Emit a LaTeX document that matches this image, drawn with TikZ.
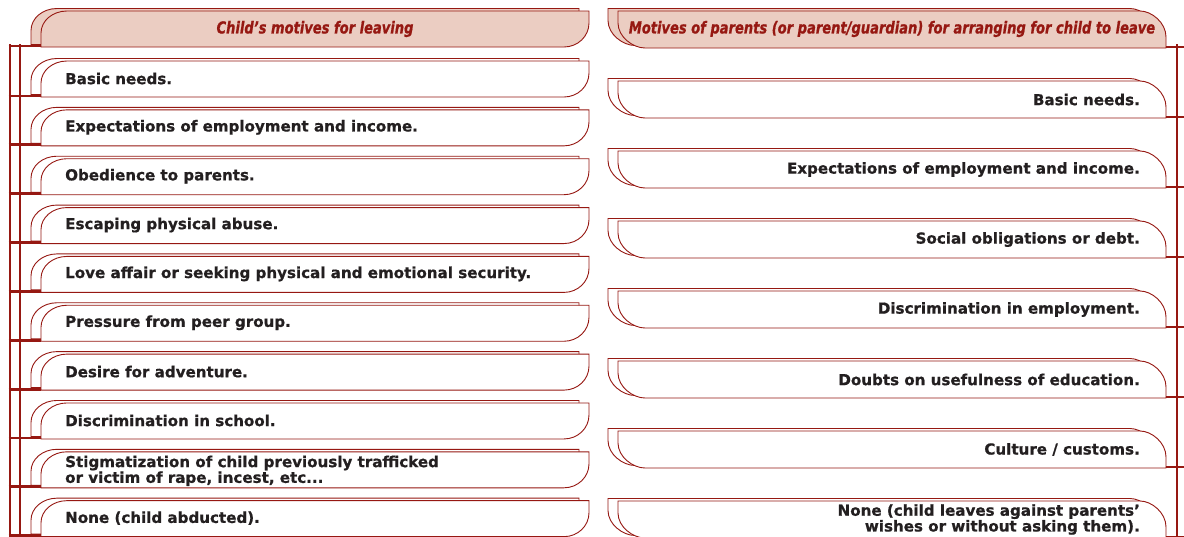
\documentclass[tikz,border=0pt]{standalone}
\usepackage{fontspec}
\setmainfont{DejaVu Sans}
\newfontfamily\bodyfont[BoldFeatures={FakeBold=0.7}]{DejaVu Sans}
\newfontfamily\hdrfont[BoldItalicFeatures={FakeBold=0.8}]{DejaVu Sans Condensed}
\definecolor{dred}{RGB}{150,24,18}
\definecolor{hfill}{RGB}{235,205,194}
\definecolor{txt}{RGB}{35,31,32}
\tikzset{
  boxline/.style={draw=dred,line width=0.9pt},
  ltext/.style={anchor=west,inner sep=0pt,text=txt,font=\bodyfont\fontsize{15.1}{14.5}\selectfont\bfseries,align=left},
  rtext/.style={anchor=east,inner sep=0pt,text=txt,font=\bodyfont\fontsize{15.1}{14.5}\selectfont\bfseries,align=right},
  htext/.style={inner sep=0pt,text=dred,font=\hdrfont\fontsize{16.5}{16.5}\selectfont\bfseries\itshape},
  brk/.style={draw=dred,line width=2pt},
  brkh/.style={draw=dred,line width=2.8pt},
}
\newcommand\lpath[2]{(41,#2) -- (41,#1+22) .. controls (41,#1+9.85) and (52.6,#1) .. (67,#1) -- (589,#1) -- (589,#2-24) .. controls (589,#2-10.7) and (577.8,#2) .. (564,#2) -- cycle}
\newcommand\rpath[2]{(618,#1) -- (1140,#1) .. controls (1151.6,#1) and (1166,#1+11.6) .. (1166,#1+26) -- (1166,#2) -- (645,#2) .. controls (632.9,#2) and (618,#2-11.2) .. (618,#2-25) -- cycle}
\newcommand\LB[5][0]{%
  \pgfmathsetmacro\tT{#3}\pgfmathsetmacro\tB{#3+36}\pgfmathsetmacro\tM{#3+17.5+#1}%
  \begin{scope}[shift={(-10,-2.5)}]\draw[boxline,fill=#4] \lpath{\tT}{\tB};\end{scope}
  \draw[boxline,fill=#4] \lpath{\tT}{\tB};
  \coordinate (#2-j) at (41,\tB-1);
  \coordinate (#2-v) at (8.5,\tB-1);
  \node[ltext] (#2) at (65,\tM) {#5};
}
\newcommand\RB[4]{%
  \pgfmathsetmacro\tT{#2}\pgfmathsetmacro\tB{#2+37}\pgfmathsetmacro\tM{#2+18.5}%
  \begin{scope}[shift={(-10,-2.5)}]\draw[boxline,fill=#3] \rpath{\tT}{\tB};\end{scope}
  \draw[boxline,fill=#3] \rpath{\tT}{\tB};
  \coordinate (#1-j) at (1166,\tB-1);
  \coordinate (#1-v) at (1186,\tB-1);
  \node[rtext] (#1) at (1140,\tM) {#4};
}
\begin{document}
\begin{tikzpicture}[x=1pt,y=-1pt]
\useasboundingbox (0,0) rectangle (1184,536);
\fill[white] (0,0) rectangle (1184,536);
% left column
\LB{lh}{11}{hfill}{}
\node[htext] (lhead) at (315,29) {\scalebox{0.88}[1]{Child’s motives for leaving}};
\LB{l0}{61}{white}{Basic needs.}
\LB{l1}{109.85}{white}{Expectations of employment and income.}
\LB{l2}{158.7}{white}{Obedience to parents.}
\LB{l3}{207.55}{white}{Escaping physical abuse.}
\LB{l4}{256.4}{white}{Love affair or seeking physical and emotional security.}
\LB{l5}{305.25}{white}{Pressure from peer group.}
\LB{l6}{354.1}{white}{Desire for adventure.}
\LB{l7}{402.95}{white}{Discrimination in school.}
\LB[1.5]{l8}{451.8}{white}{Stigmatization of child previously trafficked\\or victim of rape, incest, etc...}
\LB{l9}{500.65}{white}{None (child abducted).}
% right column
\RB{rh}{11}{hfill}{}
\node[htext] (rhead) at (892,29) {\scalebox{0.88}[1]{Motives of parents (or parent/guardian) for arranging for child to leave}};
\RB{r0}{81}{white}{Basic needs.}
\RB{r1}{151}{white}{Expectations of employment and income.}
\RB{r2}{221}{white}{Social obligations or debt.}
\RB{r3}{291}{white}{Discrimination in employment.}
\RB{r4}{361}{white}{Doubts on usefulness of education.}
\RB{r5}{431}{white}{Culture / customs.}
\RB{r6}{501}{white}{None (child leaves against parents’\\wishes or without asking them).}
% left brackets
\coordinate (lvtop1) at (9.5,44);
\coordinate (lvbot1) at (9.5,540);
\coordinate (lvtop2) at (19.5,44);
\coordinate (lvbot2) at (19.5,540);
\draw[brk] (lvtop1) -- (lvbot1);
\draw[brk] (lvtop2) -- (lvbot2);
\foreach \n in {lh,l0,l1,l2,l3,l4,l5,l6,l7,l8,l9}{\draw[brkh] (\n-v) -- (\n-j);}
% right bracket
\coordinate (rvtop) at (1176.5,44);
\coordinate (rvbot) at (1176.5,540);
\draw[brk] (rvtop) -- (rvbot);
\foreach \n in {rh,r0,r1,r2,r3,r4,r5,r6}{\draw[brkh] (\n-j) -- (\n-v);}
\end{tikzpicture}
\end{document}
